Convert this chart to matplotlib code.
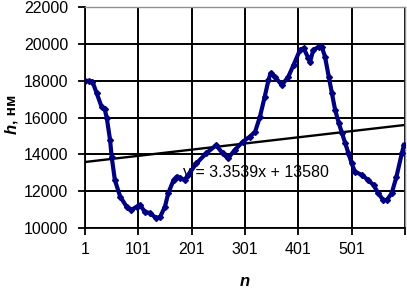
import matplotlib
matplotlib.use("Agg")
import matplotlib.pyplot as plt
import numpy as np

plt.rcParams['font.family'] = ['Liberation Sans', 'DejaVu Sans']

# data
n_values = [1, 8, 15, 23, 32, 38, 42, 48, 51, 57, 67, 79, 88, 98, 104, 113, 123, 135,
            142, 151, 157, 167, 173, 180, 188, 195, 210, 228, 247, 259, 269, 282, 297,
            310, 320, 329, 338, 345, 349, 357, 370, 382, 392, 404, 411, 420, 423, 429,
            439, 445, 451, 458, 464, 470, 477, 483, 489, 495, 501, 507, 520, 532, 542,
            551, 560, 567, 576, 585, 595, 599]
h_values = [18000, 17980, 17950, 17310, 16590, 16450, 15950, 14780, 13870, 12600, 11700,
            11160, 10980, 11160, 11250, 10890, 10800, 10530, 10610, 11160, 11880, 12600,
            12790, 12700, 12620, 12900, 13510, 14050, 14500, 14050, 13780, 14240, 14690,
            14960, 15230, 16040, 17130, 18030, 18400, 18220, 17760, 18200, 18850, 19660,
            19760, 19210, 19030, 19660, 19840, 19840, 19300, 18220, 17310, 16410, 15680,
            15140, 14600, 14050, 13510, 13060, 12880, 12600, 12330, 11880, 11520, 11520,
            11880, 12790, 14050, 14500]

trend_slope = 3.3539
trend_intercept = 13580
trend_label = "y = 3.3539x + 13580"

x_ticks = [1, 101, 201, 301, 401, 501, 601]
x_tick_labels = ["1", "101", "201", "301", "401", "501", ""]
y_ticks = [10000, 12000, 14000, 16000, 18000, 20000, 22000]

W, H = 407, 290
fig = plt.figure(figsize=(W / 100, H / 100), dpi=100)
ax = fig.add_axes([85 / W, 1 - 228 / H, (405 - 85) / W, (228 - 7) / H])

ax.set_xlim(1, 601)
ax.set_ylim(10000, 22000)

ax.grid(True, color='black', linewidth=1.4)
ax.set_axisbelow(True)

ax.plot(n_values, h_values, color='#000080', linewidth=3.0, marker='D',
        markersize=3.0, zorder=3)

tx = np.array([1, 601])
ax.plot(tx, trend_slope * tx + trend_intercept, color='black', linewidth=1.7, zorder=2)

ax.text(185, 12990, trend_label, fontsize=11.5, ha='left', va='center', zorder=1)

ax.set_xticks(x_ticks)
ax.set_xticklabels(x_tick_labels)
ax.set_yticks(y_ticks)
ax.set_yticklabels([str(v) for v in y_ticks])
ax.tick_params(axis='both', labelsize=11.5, direction='out', length=5, width=1.3,
               color='black')
ax.tick_params(axis='y', pad=7)
ax.tick_params(axis='x', pad=5)

for s in ['left', 'bottom']:
    ax.spines[s].set_color('black')
    ax.spines[s].set_linewidth(1.3)
for s in ['top', 'right']:
    ax.spines[s].set_color('#909090')
    ax.spines[s].set_linewidth(1.0)

fig.text(245 / W, 1 - 281 / H, "n", fontsize=12, fontweight='bold', style='italic',
         ha='center', va='center')
fig.text(12 / W, 1 - 124 / H, ", нм", fontsize=11, fontweight='bold', rotation=90,
         ha='center', va='bottom')
fig.text(12 / W, 1 - 124 / H, "h", fontsize=12, fontweight='bold', style='italic',
         rotation=90, ha='center', va='top')

fig.savefig("out.png", dpi=100)
